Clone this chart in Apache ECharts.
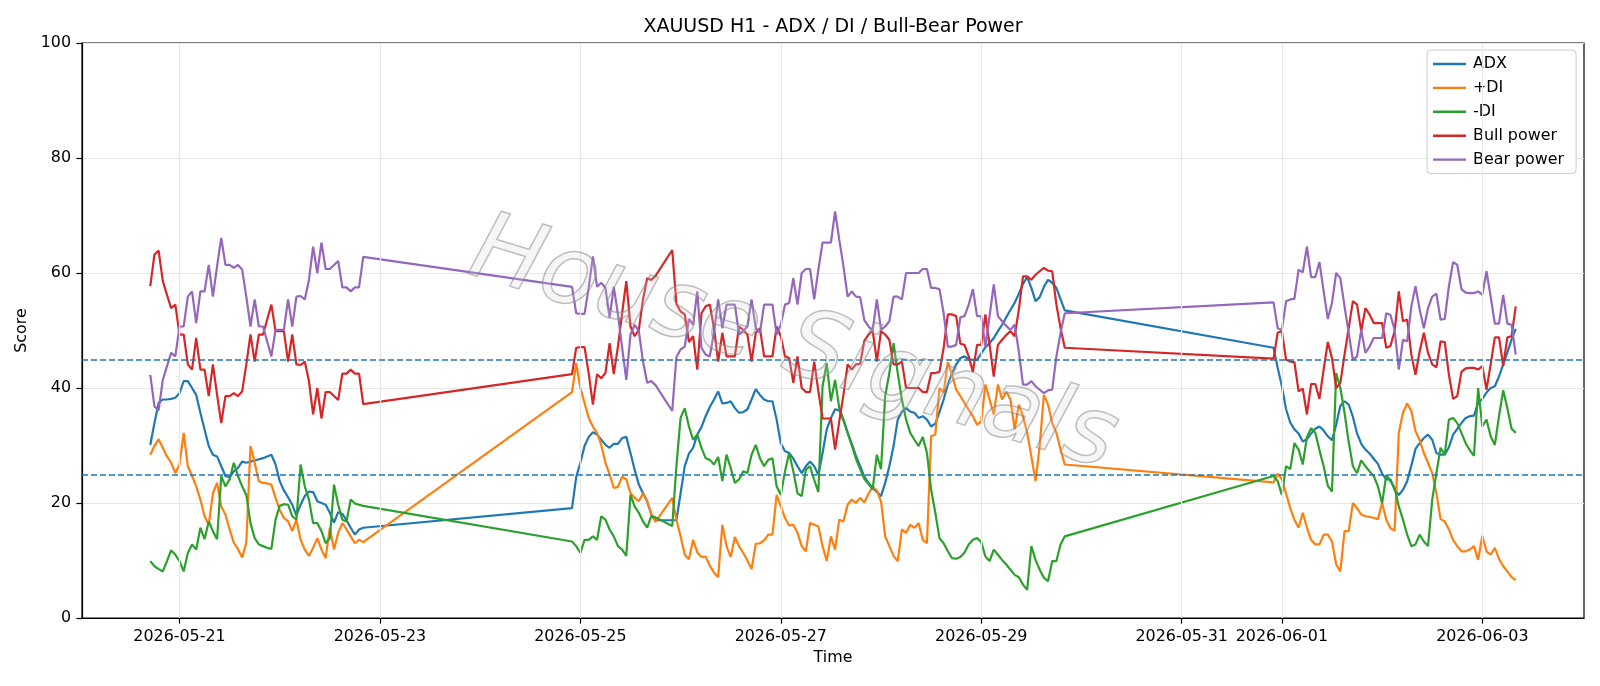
<!DOCTYPE html>
<html>
<head>
<meta charset="utf-8">
<title>XAUUSD H1 - ADX / DI / Bull-Bear Power</title>
<script src="https://cdn.jsdelivr.net/npm/echarts@6/dist/echarts.min.js"></script>
<style>
  html, body { margin: 0; padding: 0; background: #fff; }
  #chart { width: 1600px; height: 686px; }
</style>
</head>
<body>
<div id="chart"></div>
<script>
// hourly bars, one block per trading session (market closed in between)
const segStarts = ['2026-05-20T17:00:00Z', '2026-05-24T22:00:00Z', '2026-05-25T22:00:00Z', '2026-05-31T22:00:00Z'];

const adx = [
  [30.1, 33.9, 37.4, 38.0, 38.0, 38.1, 38.3,
   39.1, 41.2, 41.2, 40.0, 38.8, 35.7, 32.8, 29.9, 28.4, 28.1,
   26.4, 24.7, 24.5, 25.5, 26.1, 27.2, 27.0, 27.2, 27.4, 27.6,
   27.8, 28.1, 28.4, 26.7, 23.8, 22.2, 21.0, 19.7, 17.8, 19.7,
   21.2, 22.0, 21.9, 20.3, 20.0, 19.7, 18.3, 16.6, 18.4, 18.1,
   17.0, 15.7, 14.5, 15.4, 15.7],
  [19.1, 24.5, 27.0, 29.9, 31.5, 32.3, 31.9, 31.0, 30.1, 29.6,
   30.3, 30.3, 31.3, 31.5, 28.7, 25.8, 23.2, 21.7, 20.3, 18.0,
   17.0],
  [17.0, 17.0, 21.7, 26.4, 28.6, 29.6, 31.9, 33.2, 35.1, 36.7,
   38.0, 39.4, 37.3, 37.4, 37.7, 36.5, 35.7, 35.8, 36.3, 38.0,
   39.8, 38.8, 38.0, 37.7, 37.7, 34.5, 30.4, 29.0, 28.7, 27.7,
   26.4, 25.2, 26.4, 27.2, 26.4, 24.9, 28.7, 32.8, 34.8, 36.3,
   36.1, 34.4, 32.3, 30.3, 28.2, 26.4, 24.6, 23.5, 22.6, 21.9,
   21.2, 23.5, 26.4, 29.9, 34.5, 35.9, 36.5, 35.9, 35.7, 34.8,
   35.1, 34.5, 33.3, 33.8, 35.8, 38.0, 40.6, 42.6, 44.1, 45.2,
   45.5, 45.0, 44.9, 44.9, 46.0, 47.1, 47.8, 48.7, 49.9, 51.0,
   52.3, 53.6, 54.8, 56.4, 58.1, 59.3, 57.4, 55.1, 55.8, 57.6,
   58.8, 58.3, 57.4, 55.4, 53.5],
  [47.0, 43.5, 40.3, 36.3, 34.0, 32.8, 32.1, 30.7, 31.1, 32.1,
   32.9, 33.3, 32.6, 31.6, 30.9, 33.6, 36.9, 37.7, 37.1, 35.0,
   32.1, 30.3, 29.3, 28.6, 27.7, 26.8, 25.1, 24.1, 24.1, 22.3,
   21.4, 22.3, 23.8, 26.5, 29.4, 30.4, 31.3, 31.9, 31.0, 28.7,
   28.4, 28.4, 29.7, 31.9, 32.9, 33.9, 34.8, 35.1, 35.2, 37.4,
   38.1, 39.2, 40.0, 40.3, 42.0, 44.1, 46.2, 48.4, 50.3]
];

const plusDI = [
  [28.4, 29.9, 31.1, 29.6, 28.1, 27.0, 25.2,
   26.7, 32.2, 26.4, 24.7, 22.9, 20.6, 17.7, 16.2, 21.7, 23.5,
   19.4, 18.0, 15.4, 13.1, 12.0, 10.5, 13.1, 29.9, 27.0, 23.8,
   23.5, 23.4, 23.2, 20.9, 18.8, 17.4, 16.8, 15.1, 17.1, 13.6,
   11.9, 10.8, 12.2, 13.9, 11.9, 10.4, 15.7, 11.9, 14.8, 16.5,
   15.4, 14.2, 13.0, 13.6, 13.2],
  [39.3, 44.3, 40.0, 37.4, 34.8, 33.3, 32.2, 30.1, 27.0, 25.0,
   22.6, 22.8, 24.6, 24.1, 21.7, 20.9, 20.3, 21.7, 20.3, 18.0,
   16.7],
  [20.9, 17.1, 14.2, 11.0, 10.2, 13.6, 11.4, 10.6, 10.7, 9.1,
   7.9, 7.1, 16.2, 12.5, 10.6, 14.1, 12.5, 11.3, 10.0, 8.5,
   12.9, 13.0, 13.5, 14.5, 14.5, 21.4, 19.4, 17.4, 16.1, 16.2,
   14.8, 12.5, 11.6, 16.5, 16.2, 15.9, 12.5, 9.9, 14.2, 11.9,
   17.1, 16.8, 19.7, 20.6, 20.0, 20.9, 20.1, 21.6, 22.8, 22.2,
   20.3, 14.2, 12.5, 10.8, 9.9, 15.4, 14.8, 16.2, 15.7, 16.5,
   13.6, 13.0, 31.6, 31.9, 40.0, 39.2, 44.5, 42.3, 39.7, 38.6,
   37.4, 36.2, 35.1, 33.6, 34.2, 40.6, 38.0, 35.4, 40.6, 38.0,
   39.4, 38.0, 32.8, 37.1, 35.1, 32.2, 28.1, 23.8, 29.9, 38.8,
   37.1, 33.9, 32.2, 29.3, 26.7],
  [23.6, 25.1, 24.1, 21.7, 19.1, 17.1, 15.7, 18.3, 15.7, 13.6,
   12.8, 12.8, 14.5, 14.5, 13.3, 9.3, 8.1, 15.1, 15.1, 20.0,
   19.1, 18.0, 17.7, 17.6, 17.4, 17.2, 20.0, 17.1, 15.6, 15.2,
   32.2, 35.7, 37.3, 36.0, 32.5, 30.9, 28.7, 27.0, 25.2, 21.7,
   17.2, 16.8, 15.4, 13.6, 12.5, 11.6, 11.6, 11.9, 12.5, 10.1,
   14.3, 11.6, 11.0, 12.2, 10.3, 9.0, 8.1, 7.1, 6.6]
];

const minusDI = [
  [9.9, 9.0, 8.5, 8.1, 9.9, 11.8, 11.0,
   9.9, 8.1, 11.3, 12.8, 11.9, 15.7, 13.7, 16.8, 15.1, 13.7,
   24.7, 22.9, 24.1, 27.0, 24.7, 22.9, 21.4, 16.5, 13.9, 12.8,
   12.5, 12.2, 12.0, 17.1, 19.5, 19.8, 19.7, 17.7, 17.1, 26.7,
   22.9, 20.6, 16.5, 16.5, 15.1, 13.0, 13.9, 23.2, 19.7, 17.1,
   16.8, 20.6, 19.9, 19.7, 19.5],
  [13.3, 12.5, 11.3, 13.6, 13.6, 14.2, 13.6, 17.7, 17.1, 15.4,
   14.2, 12.5, 11.9, 10.8, 21.4, 19.4, 18.3, 16.8, 15.7, 17.7,
   17.5],
  [16.0, 26.4, 34.8, 36.5, 33.3, 31.0, 31.9, 29.6, 27.8, 27.5,
   26.7, 28.0, 23.8, 28.4, 26.1, 23.5, 24.1, 25.5, 25.2, 28.4,
   30.1, 27.8, 26.4, 27.5, 27.8, 22.9, 21.4, 25.5, 28.7, 25.5,
   21.7, 21.2, 25.8, 26.4, 24.0, 21.9, 40.3, 44.3, 37.7, 41.4,
   36.5, 34.5, 32.2, 30.0, 27.7, 25.9, 24.2, 23.3, 22.4, 28.4,
   25.9, 38.6, 42.6, 47.8, 42.6, 38.0, 34.5, 32.2, 31.0, 29.9,
   31.5, 28.7, 22.3, 18.3, 13.9, 13.0, 11.6, 10.4, 10.3, 10.6,
   11.4, 12.8, 13.6, 13.9, 13.2, 10.7, 9.9, 11.9, 11.0, 10.1,
   9.3, 8.4, 7.5, 7.1, 5.8, 4.9, 12.5, 10.1, 8.4, 7.0,
   6.4, 9.9, 9.9, 12.8, 14.2],
  [24.7, 23.8, 21.4, 26.4, 25.9, 30.4, 29.3, 26.7, 31.5, 33.0,
   32.2, 29.2, 26.4, 23.0, 22.0, 42.6, 40.0, 35.7, 30.6, 26.4,
   25.2, 27.4, 26.4, 25.5, 24.7, 22.9, 19.9, 24.9, 23.8, 22.6,
   19.4, 17.1, 14.5, 12.5, 12.8, 14.5, 13.3, 12.5, 20.6, 25.2,
   29.6, 28.4, 34.5, 34.8, 33.9, 32.2, 30.4, 29.2, 28.2, 40.0,
   33.3, 34.5, 31.6, 30.1, 35.1, 39.6, 36.5, 32.9, 32.2]
];

const bullPower = [
  [57.7, 63.2, 63.9, 58.6, 56.2, 53.9, 54.5,
   49.3, 49.3, 44.1, 43.2, 48.7, 43.2, 43.2, 38.6, 44.1, 38.8,
   33.9, 38.6, 38.6, 39.1, 38.6, 39.4, 44.1, 49.3, 44.6, 49.3,
   49.3, 51.9, 54.5, 49.9, 49.9, 49.9, 44.6, 49.3, 44.1, 44.0,
   44.6, 41.2, 35.4, 40.0, 34.7, 39.3, 39.3, 38.6, 37.9, 42.5,
   42.5, 43.2, 42.5, 42.5, 37.2],
  [42.4, 47.0, 47.1, 47.1, 42.5, 37.1, 42.4, 41.7, 42.6, 47.8,
   42.4, 47.2, 53.0, 58.6, 50.7, 49.0, 50.1, 55.4, 59.1, 58.8,
   59.5],
  [64.0, 54.6, 53.3, 52.8, 48.0, 49.0, 43.2, 53.0, 54.2, 54.5,
   50.4, 44.6, 49.6, 45.5, 45.5, 45.5, 50.7, 50.1, 49.3, 44.6,
   49.6, 50.4, 45.5, 45.5, 45.5, 50.7, 49.0, 45.5, 45.2, 40.9,
   45.5, 40.0, 39.3, 39.3, 44.6, 39.4, 34.7, 34.7, 34.7, 29.3,
   34.2, 38.8, 44.1, 43.2, 44.1, 44.2, 48.2, 49.3, 50.0, 44.6,
   49.9, 49.3, 48.4, 44.1, 44.1, 44.6, 40.0, 40.0, 40.0, 40.0,
   39.3, 39.3, 42.6, 42.6, 42.8, 47.0, 52.8, 52.8, 52.5, 47.7,
   47.5, 45.5, 42.8, 47.5, 47.5, 52.8, 47.5, 42.0, 47.5, 48.4,
   49.2, 49.9, 49.0, 53.6, 59.4, 59.4, 58.8, 59.7, 60.3, 60.9,
   60.4, 60.3, 54.5, 50.4, 47.0],
  [45.1, 49.6, 49.9, 44.9, 44.6, 44.5, 39.4, 39.9, 35.4, 40.7,
   40.7, 38.1, 43.2, 48.0, 45.2, 40.0, 40.9, 45.8, 50.4, 55.1,
   54.5, 49.9, 53.9, 52.8, 51.3, 51.3, 51.3, 47.0, 47.3, 49.9,
   56.8, 51.6, 51.9, 45.8, 42.3, 46.4, 49.6, 46.1, 44.1, 43.6,
   48.1, 48.0, 42.3, 38.1, 38.6, 42.8, 43.4, 43.5, 43.5, 43.2,
   43.8, 39.7, 44.1, 48.8, 48.8, 43.8, 48.8, 49.0, 54.2]
];

const bearPower = [
  [42.3, 36.8, 36.1, 41.4, 43.8, 46.1, 45.5,
   50.7, 50.7, 55.9, 56.8, 51.3, 56.8, 56.8, 61.4, 55.9, 61.2,
   66.1, 61.4, 61.4, 60.9, 61.4, 60.6, 55.9, 50.7, 55.4, 50.7,
   50.7, 48.1, 45.5, 50.1, 50.1, 50.1, 55.4, 50.7, 55.9, 56.0,
   55.4, 58.8, 64.6, 60.0, 65.3, 60.7, 60.7, 61.4, 62.1, 57.5,
   57.5, 56.8, 57.5, 57.5, 62.8],
  [57.6, 53.0, 52.9, 52.9, 57.5, 62.9, 57.6, 58.3, 57.4, 52.2,
   57.6, 52.8, 47.0, 41.4, 49.3, 51.0, 49.9, 44.6, 40.9, 41.2,
   40.5],
  [36.0, 45.4, 46.7, 47.2, 52.0, 51.0, 56.8, 47.0, 45.8, 45.5,
   49.6, 55.4, 50.4, 54.5, 54.5, 54.5, 49.3, 49.9, 50.7, 55.4,
   50.4, 49.6, 54.5, 54.5, 54.5, 49.3, 51.0, 54.5, 54.8, 59.1,
   54.5, 60.0, 60.7, 60.7, 55.4, 60.6, 65.3, 65.3, 65.3, 70.7,
   65.8, 61.2, 55.9, 56.8, 55.9, 55.8, 51.8, 50.7, 50.0, 55.4,
   50.1, 50.7, 51.6, 55.9, 55.9, 55.4, 60.0, 60.0, 60.0, 60.0,
   60.7, 60.7, 57.4, 57.4, 57.2, 53.0, 47.2, 47.2, 47.5, 52.3,
   52.5, 54.5, 57.2, 52.5, 52.5, 47.2, 52.5, 58.0, 52.5, 51.6,
   50.8, 50.1, 51.0, 46.4, 40.6, 40.6, 41.2, 40.3, 39.7, 39.1,
   39.6, 39.7, 45.5, 49.6, 53.0],
  [54.9, 50.4, 50.1, 55.1, 55.4, 55.5, 60.6, 60.1, 64.6, 59.3,
   59.3, 61.9, 56.8, 52.0, 54.8, 60.0, 59.1, 54.2, 49.6, 44.9,
   45.5, 50.1, 46.1, 47.2, 48.7, 48.7, 48.7, 53.0, 52.7, 50.1,
   43.2, 48.4, 48.1, 54.2, 57.7, 53.6, 50.4, 53.9, 55.9, 56.4,
   51.9, 52.0, 57.7, 61.9, 61.4, 57.2, 56.6, 56.5, 56.5, 56.8,
   56.2, 60.3, 55.9, 51.2, 51.2, 56.2, 51.2, 51.0, 45.8]
];

const tickLabels = ['2026-05-21', '2026-05-23', '2026-05-25', '2026-05-27',
                    '2026-05-29', '2026-05-31', '2026-06-01', '2026-06-03'];
const refLevels = [25, 45];

const HOUR = 3600 * 1000;

function toPoints(segs) {
  const out = [];
  segs.forEach(function (vals, s) {
    const t0 = Date.parse(segStarts[s]);
    vals.forEach(function (v, i) { out.push([t0 + i * HOUR, v]); });
  });
  return out;
}

const firstT = Date.parse(segStarts[0]);
const lastSeg = adx[adx.length - 1];
const lastT = Date.parse(segStarts[segStarts.length - 1]) + (lastSeg.length - 1) * HOUR;
const pad = (lastT - firstT) * 0.05;
const tickValues = tickLabels.map(function (s) { return Date.parse(s + 'T00:00:00Z'); });

const FONT = 'DejaVu Sans';
// legend handle: a plain line (tiny corner dots only fix the box size)
const LINE_ICON = 'path://M0,0h0.05v0.05h-0.05z M0,5.8h33v2.4h-33z M32.95,13.95h0.05v0.05h-0.05z';

const chart = echarts.init(document.getElementById('chart'));

function mkLine(name, data, color) {
  return {
    name: name,
    type: 'line',
    data: toPoints(data),
    symbol: 'none',
    z: 3,
    lineStyle: { color: color, width: 2.2 },
    itemStyle: { color: color }
  };
}

const option = {
  animation: false,
  backgroundColor: '#fff',
  textStyle: { fontFamily: FONT },
  grid: {
    left: 82, right: 16, top: 43, bottom: 68,
    show: true, borderColor: '#000', borderWidth: 1.2, backgroundColor: 'transparent'
  },
  legend: {
    orient: 'vertical',
    left: 1427, top: 50,
    data: ['ADX', '+DI', '-DI', 'Bull power', 'Bear power'],
    icon: LINE_ICON,
    itemWidth: 33, itemHeight: 14, itemGap: 7.9,
    padding: [6, 12, 6, 6],
    backgroundColor: 'rgba(255,255,255,0.8)',
    borderColor: '#cccccc', borderWidth: 1, borderRadius: 4,
    textStyle: { fontFamily: FONT, fontSize: 15.9, color: '#000', padding: [0, 0, 0, 2] }
  },
  xAxis: {
    type: 'value',
    min: firstT - pad, max: lastT + pad,
    name: 'Time', nameLocation: 'middle', nameGap: 30,
    nameTextStyle: { fontFamily: FONT, fontSize: 15.9, color: '#000' },
    axisLine: { show: true, lineStyle: { color: '#000', width: 1.2 } },
    axisTick: { show: true, customValues: tickValues, length: 5.6, lineStyle: { color: '#000', width: 1.2 } },
    axisLabel: {
      customValues: tickValues, margin: 11, color: '#000', fontFamily: FONT, fontSize: 15.9,
      formatter: function (v) { return new Date(v).toISOString().slice(0, 10); }
    },
    splitLine: { show: false }
  },
  yAxis: {
    type: 'value', min: 0, max: 100, interval: 20,
    name: 'Score', nameLocation: 'middle', nameGap: 39,
    nameTextStyle: { fontFamily: FONT, fontSize: 15.9, color: '#000' },
    axisLine: { show: true, lineStyle: { color: '#000', width: 1.2 } },
    axisTick: { show: true, length: 5.6, lineStyle: { color: '#000', width: 1.2 } },
    axisLabel: { margin: 11, color: '#000', fontFamily: FONT, fontSize: 15.9 },
    splitLine: { show: true, lineStyle: { color: '#e7e7e7', width: 1.2 } }
  },
  graphic: [
    {
      type: 'text', x: 833, y: 27, z: 10,
      style: { text: 'XAUUSD H1 - ADX / DI / Bull-Bear Power', fontFamily: FONT, fontSize: 19,
               fill: '#000', align: 'center', verticalAlign: 'middle' }
    },
    {
      type: 'text', x: 793, y: 347, z: 20, silent: true,
      rotation: -17 * Math.PI / 180,
      style: { text: 'House Signals', fontFamily: FONT, fontStyle: 'italic', fontSize: 95,
               fill: 'rgba(215,215,215,0.22)', stroke: 'rgba(120,120,120,0.5)', lineWidth: 1.5,
               align: 'center', verticalAlign: 'middle' }
    }
  ],
  series: [
    {
      type: 'line', data: [], z: 1, silent: true,
      markLine: {
        silent: true, symbol: 'none', label: { show: false },
        lineStyle: { color: '#e7e7e7', type: 'solid', width: 1.2 },
        data: tickValues.map(function (v) { return { xAxis: v }; })
      }
    },
    mkLine('ADX', adx, '#1f77b4'),
    mkLine('+DI', plusDI, '#ff7f0e'),
    mkLine('-DI', minusDI, '#2ca02c'),
    mkLine('Bull power', bullPower, '#d62728'),
    mkLine('Bear power', bearPower, '#9467bd'),
    {
      type: 'line', data: [], z: 4, silent: true,
      markLine: {
        silent: true, symbol: 'none', label: { show: false },
        lineStyle: { color: '#1f77b4', type: [6, 3], width: 1.5 },
        data: refLevels.map(function (v) { return { yAxis: v }; })
      }
    }
  ]
};

chart.setOption(option);
</script>
</body>
</html>
